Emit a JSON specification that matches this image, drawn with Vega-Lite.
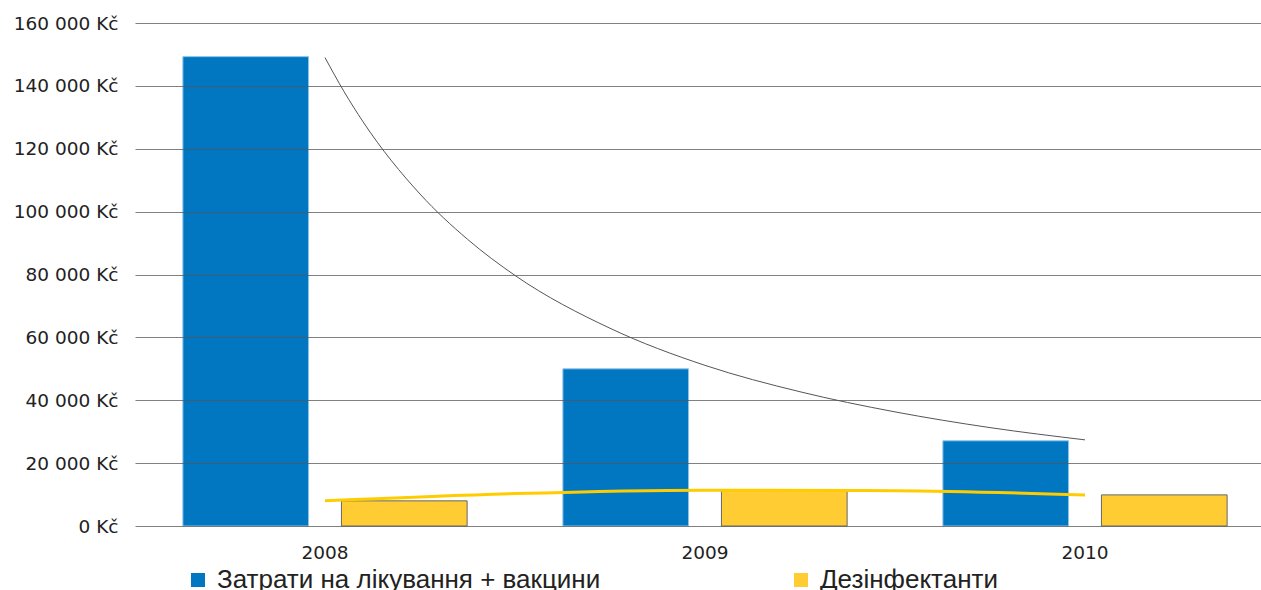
{
  "$schema": "https://vega.github.io/schema/vega-lite/v6.json",
  "width": 1124,
  "height": 503,
  "autosize": {"type": "none"},
  "padding": {"left": 137, "top": 23, "right": 0, "bottom": 64},
  "background": "white",
  "config": {
    "view": {"stroke": null},
    "font": "DejaVu Sans"
  },
  "datasets": {
    "bars": [
      {"year": "2008", "series": "Затрати на лікування + вакцини", "value": 149300},
      {"year": "2008", "series": "Дезінфектанти", "value": 8000},
      {"year": "2009", "series": "Затрати на лікування + вакцини", "value": 50000},
      {"year": "2009", "series": "Дезінфектанти", "value": 11500},
      {"year": "2010", "series": "Затрати на лікування + вакцини", "value": 27100},
      {"year": "2010", "series": "Дезінфектанти", "value": 9900}
    ],
    "trendBlue": [
      {"t": 2008, "v": 149000},
      {"t": 2008.05, "v": 138200},
      {"t": 2008.1, "v": 128600},
      {"t": 2008.25, "v": 105600},
      {"t": 2008.375, "v": 91200},
      {"t": 2008.5, "v": 79700},
      {"t": 2008.75, "v": 62900},
      {"t": 2009, "v": 51100},
      {"t": 2009.25, "v": 42700},
      {"t": 2009.5, "v": 36300},
      {"t": 2009.75, "v": 31300},
      {"t": 2010, "v": 27400}
    ],
    "trendYellow": [
      {"t": 2008, "v": 8000},
      {"t": 2008.5, "v": 10300},
      {"t": 2009, "v": 11400},
      {"t": 2009.5, "v": 11250},
      {"t": 2010, "v": 9900}
    ]
  },
  "layer": [
    {
      "data": {"name": "bars"},
      "mark": {"type": "bar", "strokeWidth": 1},
      "encoding": {
        "x": {
          "field": "year", "type": "nominal",
          "scale": {"paddingInner": 0, "paddingOuter": 0, "range": [-2, 1138]},
          "axis": {"title": null, "domain": false, "ticks": false, "labelAngle": 0, "labelFontSize": 18.5, "labelColor": "#222222", "labelPadding": 17}
        },
        "xOffset": {
          "field": "series", "type": "nominal",
          "sort": ["Затрати на лікування + вакцини", "Дезінфектанти"],
          "scale": {"paddingInner": 0.2075, "paddingOuter": 0.302}
        },
        "y": {
          "field": "value", "type": "quantitative",
          "scale": {"domain": [0, 160000], "nice": false},
          "axis": {
            "title": null, "domain": false, "ticks": false,
            "values": [0, 20000, 40000, 60000, 80000, 100000, 120000, 140000, 160000],
            "labelExpr": "replace(format(datum.value, ','), regexp(',', 'g'), ' ') + ' Kč'",
            "labelFontSize": 18.5, "labelColor": "#222222", "labelPadding": 19,
            "grid": true, "gridColor": "#555555", "gridOpacity": 0.75, "gridWidth": 1,
            "zindex": 1
          }
        },
        "fill": {
          "field": "series", "type": "nominal",
          "sort": ["Затрати на лікування + вакцини", "Дезінфектанти"],
          "scale": {"range": ["#0077C0", "#FFCD33"]},
          "legend": {
            "title": null, "orient": "none", "direction": "horizontal", "columns": 2,
            "legendX": 48, "legendY": 544, "padding": 0,
            "symbolType": "square", "symbolSize": 196, "symbolStrokeWidth": 1,
            "labelFont": "Liberation Sans",
            "labelFontSize": 26, "labelColor": "#222222", "labelLimit": 700, "labelOffset": 6,
            "columnPadding": 187
          }
        },
        "stroke": {
          "field": "series", "type": "nominal",
          "sort": ["Затрати на лікування + вакцини", "Дезінфектанти"],
          "scale": {"range": ["#8CC4EC", "#666666"]},
          "legend": null
        }
      }
    },
    {
      "data": {"name": "trendBlue"},
      "mark": {"type": "line", "color": "#555555", "strokeWidth": 1, "interpolate": "monotone"},
      "encoding": {
        "x": {"field": "t", "type": "quantitative", "scale": {"domain": [2007.5, 2010.5], "range": [-2, 1138], "nice": false, "zero": false}, "axis": null},
        "y": {"field": "v", "type": "quantitative"}
      }
    },
    {
      "data": {"name": "trendYellow"},
      "mark": {"type": "line", "color": "#FFCC00", "strokeWidth": 3, "interpolate": "monotone"},
      "encoding": {
        "x": {"field": "t", "type": "quantitative", "scale": {"domain": [2007.5, 2010.5], "range": [-2, 1138], "nice": false, "zero": false}, "axis": null},
        "y": {"field": "v", "type": "quantitative"}
      }
    }
  ],
  "resolve": {"scale": {"x": "independent"}}
}
